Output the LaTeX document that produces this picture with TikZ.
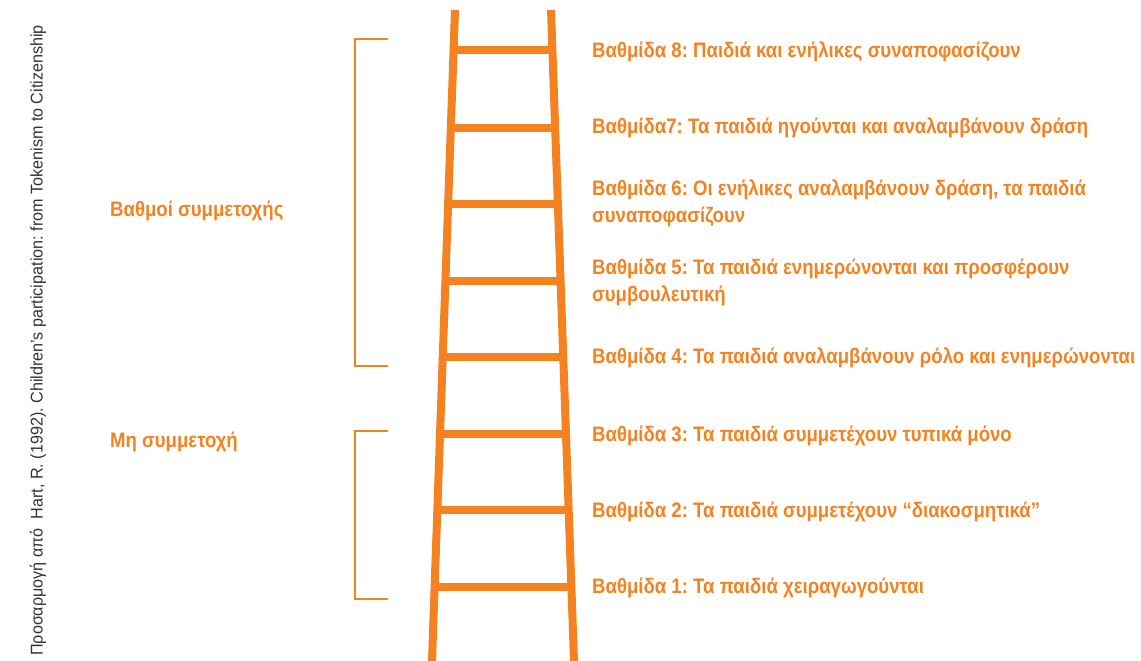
\documentclass[tikz,border=0pt]{standalone}
\usepackage{fontspec}
\setmainfont{Liberation Sans}[FakeStretch=0.885]
\newfontfamily\notefont{Liberation Sans}[FakeStretch=0.95]
\usetikzlibrary{calc,positioning}
\definecolor{ladderorange}{HTML}{F58220}
\frenchspacing
\tikzset{
  rail/.style={draw=ladderorange, line width=8pt},
  rung/.style={draw=ladderorange, line width=8pt},
  bracket/.style={draw=ladderorange, line width=2pt},
  steplabel/.style={anchor=west, inner sep=0pt, align=left, text=ladderorange,
    font=\bfseries\fontsize{21}{27}\selectfont},
  grouplabel/.style={anchor=west, inner sep=0pt, text=ladderorange,
    font=\bfseries\fontsize{21}{27}\selectfont},
  sourcenote/.style={anchor=west, inner sep=0pt, rotate=90, text=black!80,
    font=\notefont\fontsize{17}{20}\selectfont}
}

\begin{document}
\begin{tikzpicture}[x=1pt, y=-1pt]
  \useasboundingbox (0,0) rectangle (1141,661);

  % ladder
  \coordinate (lt) at (455,10);
  \coordinate (lb) at (432,661);
  \coordinate (rt) at (551,10);
  \coordinate (rb) at (574,661);
  \draw[rail] (lt) -- (lb);
  \draw[rail] (rt) -- (rb);
  \foreach \y in {50,128,204,281,357,434,510,587}
    \draw[rung] ($(lt)!{(\y-10)/651}!(lb)$) -- ($(rt)!{(\y-10)/651}!(rb)$);

  % steps
  \node[steplabel] (s8) at (592,52) {Βαθμίδα 8: Παιδιά και ενήλικες συναποφασίζουν};
  \node[steplabel] (s7) at (592,128) {Βαθμίδα7: Τα παιδιά ηγούνται και αναλαμβάνουν δράση};
  \node[steplabel] (s6) at (592,203) {Βαθμίδα 6: Οι ενήλικες αναλαμβάνουν δράση, τα παιδιά\\συναποφασίζουν};
  \node[steplabel] (s5) at (592,282) {Βαθμίδα 5: Τα παιδιά ενημερώνονται και προσφέρουν\\συμβουλευτική};
  \node[steplabel] (s4) at (592,358) {Βαθμίδα 4: Τα παιδιά αναλαμβάνουν ρόλο και ενημερώνονται};
  \node[steplabel] (s3) at (592,436) {Βαθμίδα 3: Τα παιδιά συμμετέχουν τυπικά μόνο};
  \node[steplabel] (s2) at (592,512) {Βαθμίδα 2: Τα παιδιά συμμετέχουν “διακοσμητικά”};
  \node[steplabel] (s1) at (592,588) {Βαθμίδα 1: Τα παιδιά χειραγωγούνται};

  % groups
  \draw[bracket] (388,39) -| (355,366) -- (388,366);
  \draw[bracket] (388,431) -| (355,599) -- (388,599);
  \node[grouplabel] (part) at (110,211) {Βαθμοί συμμετοχής};
  \node[grouplabel] (nopart) at (110,442) {Μη συμμετοχή};

  \node[sourcenote] (src) at (38,656) {Προσαρμογή από\ \ Hart, R. (1992). Children’s participation: from Tokenism to Citizenship};
\end{tikzpicture}
\end{document}
